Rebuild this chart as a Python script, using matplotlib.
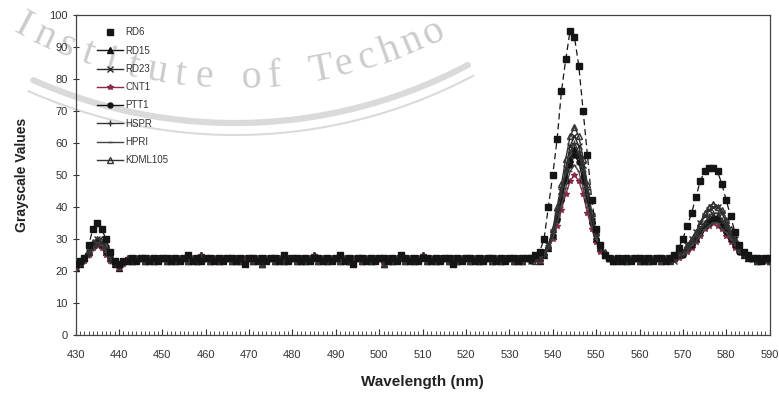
"""
Grayscale values vs wavelength for eight rice samples
"""
import numpy as np
import matplotlib
matplotlib.use('Agg')
import matplotlib.pyplot as plt
from matplotlib.lines import Line2D

matplotlib.rcParams['font.family'] = ['Liberation Sans', 'DejaVu Sans']

# wavelength grid, 1 nm steps
wavelength = np.arange(430, 591, 1)

# flat baseline stretches (442-534 nm and 556-566 nm), two phases
base_a = [
    23, 24, 23, 24, 24, 23, 24, 23, 24, 24,
    23, 24, 23, 24, 25, 23, 24, 23, 24, 24,
    23, 24, 23, 24, 24, 23, 24, 22, 24, 24,
    23, 24, 23, 24, 24, 23, 25, 23, 24, 24,
    23, 24, 23, 24, 24, 23, 24, 23, 24, 25,
    23, 24, 22, 24, 24, 23, 24, 23, 24, 24,
    23, 24, 23, 25, 24, 23, 24, 23, 24, 24,
    23, 24, 23, 24, 24, 22, 24, 23, 24, 24,
    23, 24, 23, 24, 24, 23, 24, 23, 24, 24,
    23, 24, 24]
base_b = [
    24, 23, 24, 24, 23, 24, 23, 24, 24, 23,
    24, 23, 24, 24, 23, 24, 23, 25, 24, 23,
    24, 23, 24, 24, 23, 24, 23, 24, 24, 23,
    24, 22, 24, 24, 23, 24, 23, 24, 24, 23,
    24, 23, 24, 25, 23, 24, 23, 24, 24, 23,
    24, 23, 24, 24, 23, 24, 23, 24, 24, 22,
    24, 23, 24, 24, 23, 24, 23, 24, 25, 23,
    24, 23, 24, 24, 23, 24, 23, 24, 24, 23,
    24, 23, 24, 24, 23, 24, 23, 24, 24, 23,
    24, 23, 24]
base2_a = [23, 24, 23, 24, 24, 23, 24, 23, 24, 24, 23]
base2_b = [24, 23, 24, 24, 23, 24, 23, 24, 24, 23, 24]

# 430-441 nm
peak1 = {
    'RD6':     [22, 23, 24, 28, 33, 35, 33, 30, 26, 23, 22, 23],
    'RD15':    [21, 22, 24, 26, 28, 29, 28, 26, 24, 22, 21, 23],
    'RD23':    [22, 23, 24, 26, 28, 30, 29, 27, 24, 23, 22, 23],
    'CNT1':    [21, 22, 23, 25, 27, 28, 27, 25, 23, 22, 21, 22],
    'PTT1':    [22, 22, 24, 26, 28, 29, 28, 26, 24, 22, 22, 23],
    'HSPR':    [21, 22, 23, 25, 27, 28, 28, 26, 23, 22, 21, 22],
    'HPRI':    [22, 23, 24, 26, 27, 29, 28, 26, 24, 23, 22, 23],
    'KDML105': [22, 23, 24, 26, 29, 30, 30, 28, 25, 23, 22, 23],
}
# 535-555 nm
peak2 = {
    'RD6':     [24, 25, 26, 30, 40, 50, 61, 76, 86, 95, 93, 84, 70, 56, 42, 33, 28, 25, 24, 23, 24],
    'RD15':    [24, 24, 23, 25, 27, 31, 37, 43, 49, 55, 58, 56, 50, 43, 36, 30, 27, 25, 24, 24, 23],
    'RD23':    [23, 24, 24, 26, 28, 32, 38, 45, 52, 59, 62, 59, 53, 45, 37, 31, 27, 25, 24, 24, 23],
    'CNT1':    [23, 24, 23, 25, 27, 30, 34, 39, 44, 48, 50, 48, 44, 38, 33, 29, 26, 25, 24, 23, 24],
    'PTT1':    [23, 24, 24, 25, 27, 31, 36, 42, 48, 53, 56, 54, 48, 42, 35, 30, 27, 25, 24, 23, 24],
    'HSPR':    [24, 23, 24, 25, 28, 32, 38, 44, 51, 57, 60, 57, 51, 44, 37, 31, 27, 25, 24, 23, 24],
    'HPRI':    [24, 23, 24, 25, 27, 30, 35, 40, 46, 51, 53, 51, 46, 40, 34, 30, 27, 25, 24, 24, 23],
    'KDML105': [24, 23, 24, 26, 28, 33, 40, 47, 55, 62, 65, 62, 55, 47, 38, 32, 28, 26, 24, 23, 24],
}
# 567-590 nm
peak3 = {
    'RD6':     [24, 25, 27, 30, 34, 38, 43, 48, 51, 52, 52, 51, 47, 42, 37, 32, 28, 26, 25, 24, 24, 23, 24, 24],
    'RD15':    [24, 24, 25, 26, 27, 29, 30, 33, 35, 36, 37, 37, 35, 33, 31, 29, 27, 25, 24, 24, 23, 24, 24, 23],
    'RD23':    [24, 23, 25, 26, 28, 30, 32, 35, 37, 39, 40, 40, 38, 35, 32, 30, 27, 26, 25, 24, 24, 23, 24, 24],
    'CNT1':    [23, 24, 24, 25, 26, 27, 29, 31, 33, 34, 35, 34, 33, 31, 29, 27, 26, 25, 24, 24, 23, 24, 23, 24],
    'PTT1':    [23, 24, 25, 25, 27, 28, 30, 32, 34, 35, 36, 36, 34, 32, 30, 28, 26, 25, 24, 24, 23, 24, 24, 23],
    'HSPR':    [23, 24, 25, 26, 27, 29, 31, 33, 35, 37, 38, 38, 36, 34, 31, 29, 27, 25, 25, 24, 23, 24, 23, 24],
    'HPRI':    [24, 23, 25, 25, 26, 28, 29, 31, 33, 34, 35, 35, 33, 32, 30, 28, 26, 25, 24, 23, 24, 24, 23, 24],
    'KDML105': [23, 24, 25, 26, 28, 30, 32, 35, 38, 40, 41, 40, 39, 36, 33, 30, 27, 26, 25, 24, 23, 24, 24, 23],
}

samples = ['RD6', 'RD15', 'RD23', 'CNT1', 'PTT1', 'HSPR', 'HPRI', 'KDML105']

# marker / line style per sample
styles = {
    'RD6':     dict(marker='s', ms=4.2, ls=(0, (5, 3)), lw=0.9, color='#151515', mfc='#151515'),
    'RD15':    dict(marker='^', ms=4.0, ls='-', lw=1.0, color='#151515', mfc='#151515'),
    'RD23':    dict(marker='x', ms=3.8, ls='-', lw=1.0, color='#2a2a2a', mfc='none'),
    'CNT1':    dict(marker='*', ms=4.0, ls='-', lw=1.0, color='#8a2a48', mfc='#8a2a48'),
    'PTT1':    dict(marker='o', ms=3.6, ls='-', lw=1.0, color='#151515', mfc='#151515'),
    'HSPR':    dict(marker='+', ms=4.0, ls='-', lw=1.0, color='#333333', mfc='none'),
    'HPRI':    dict(marker='_', ms=3.5, ls='-', lw=1.0, color='#444444', mfc='none'),
    'KDML105': dict(marker='^', ms=4.0, ls='-', lw=1.0, color='#333333', mfc='none'),
}

W, H = 779, 393
fig = plt.figure(figsize=(W / 100, H / 100), dpi=100)
ax = fig.add_axes([0.097, 0.148, 0.891, 0.815])
ax.patch.set_alpha(0)

# scanned watermark: text on an arc of a seal plus a gray band
wm_color = '#cccccc'
cx, cy, R = 235.0, -373.0, 461.0   # circle in pixel coords, y pointing down


def to_fig(px, py):
    return px / W, 1 - py / H


wm_text = 'Institute of Techno'
phi = np.deg2rad(-28.0)
step = np.deg2rad(3.0)
for ch in wm_text:
    px = cx + R * np.sin(phi)
    py = cy + R * np.cos(phi)
    if ch != ' ':
        fx, fy = to_fig(px, py)
        fig.text(fx, fy, ch, fontsize=29, family='Liberation Serif', color=wm_color,
                 rotation=np.rad2deg(phi), rotation_mode='anchor', ha='center',
                 va='baseline', zorder=-1)
    phi += step

for r, lw in [(496.0, 4.5), (508.0, 1.5)]:
    ang = np.deg2rad(np.linspace(-24, 28, 120))
    xs = cx + r * np.sin(ang)
    ys = cy + r * np.cos(ang)
    fx, fy = to_fig(xs, ys)
    fig.add_artist(Line2D(fx, fy, color='#dadada', lw=lw, zorder=-1,
                          transform=fig.transFigure, solid_capstyle='round'))

for i, name in enumerate(samples):
    if i % 2 == 0:
        b1, b2 = base_a, base2_a
    else:
        b1, b2 = base_b, base2_b
    values = peak1[name] + b1 + peak2[name] + b2 + peak3[name]
    ax.plot(wavelength, values, zorder=3 if name == 'RD6' else 2, **styles[name])

ax.set_xlim(430, 590)
ax.set_ylim(0, 100)
ax.set_xticks(np.arange(430, 591, 10))
ax.set_xticks(np.arange(430, 591, 1), minor=True)
ax.set_yticks(np.arange(0, 101, 10))
ax.tick_params(axis='x', which='major', direction='in', length=4, width=0.8,
               labelsize=8, colors='#333333', pad=11)
ax.tick_params(axis='x', which='minor', direction='in', length=3, width=0.6, color='#333333')
ax.tick_params(axis='y', which='major', direction='inout', length=5, width=0.8,
               labelsize=8, colors='#333333', pad=3)
for sp in ax.spines.values():
    sp.set_color('#444444')
    sp.set_linewidth(0.9)

ax.set_xlabel('Wavelength (nm)', fontsize=11, fontweight='bold', color='#222222', labelpad=11)
ax.set_ylabel('Grayscale Values', fontsize=10, fontweight='bold', color='#222222', labelpad=15)

handles = []
for name in samples:
    st = dict(styles[name])
    if name == 'RD6':
        st['ls'] = 'none'
    handles.append(Line2D([], [], **st))
ax.legend(handles, samples, loc='upper left', bbox_to_anchor=(0.026, 0.972),
          frameon=False, fontsize=7, labelspacing=0.85, handlelength=2.6,
          handletextpad=0.3, borderaxespad=0, labelcolor='#333333')

fig.savefig('out.png', dpi=100)
plt.close(fig)
